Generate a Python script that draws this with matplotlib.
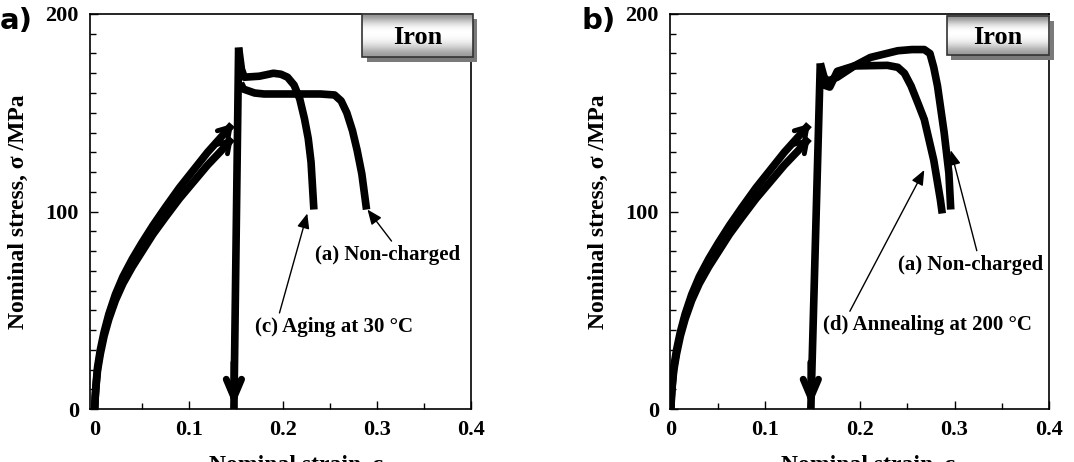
import numpy as np
import matplotlib.pyplot as plt
from matplotlib.patches import Rectangle

plt.rcParams['font.family'] = ['Liberation Serif', 'DejaVu Serif']
plt.rcParams['font.weight'] = 'bold'
plt.rcParams['axes.labelweight'] = 'bold'

# loading curves (pre-strain up to ~0.15)
load_x = [0, 0.0005, 0.0015, 0.003, 0.006, 0.01, 0.015, 0.022, 0.03, 0.04, 0.05,
          0.062, 0.075, 0.09, 0.105, 0.12, 0.135, 0.146]
load_hi = [0, 6, 13, 21, 30, 39, 48, 58, 67, 76, 84, 93, 102, 112, 121, 130, 138, 144]
load_lo = [0, 5.5, 12, 19.5, 28, 37, 45.5, 55, 63.5, 72, 79.5, 88.5, 97, 106.5, 115,
           123.5, 131, 137]

# unloading / reloading line
unload_x_a = [0.148, 0.153]
unload_y_a = [0, 183]
unload_x_b = [0.148, 0.158]
unload_y_b = [0, 175]

# panel a) curves after reloading
aging_x = [0.153, 0.156, 0.159, 0.175, 0.19, 0.198, 0.205, 0.212, 0.218, 0.223, 0.227, 0.23, 0.233]
aging_y = [183, 172, 168, 168.5, 170, 169.5, 168, 164, 157, 147, 137, 125, 101]
nonch_a_x = [0.155, 0.158, 0.17, 0.18, 0.2, 0.22, 0.24, 0.255, 0.262, 0.268, 0.274, 0.279, 0.284, 0.289]
nonch_a_y = [165, 162, 160, 159.5, 159.5, 159.5, 159.5, 159, 156, 150, 141, 131, 119, 101]

# panel b) curves after reloading
nonch_b_x = [0.158, 0.162, 0.166, 0.176, 0.194, 0.211, 0.24, 0.255, 0.268, 0.274, 0.278, 0.282, 0.289, 0.294, 0.296]
nonch_b_y = [175, 168, 166, 168, 173.7, 178, 181.4, 182, 182, 180, 173, 163.5, 140, 119.5, 101]
anneal_x = [0.158, 0.162, 0.168, 0.176, 0.194, 0.229, 0.24, 0.247, 0.254, 0.262, 0.268, 0.278, 0.285, 0.287]
anneal_y = [170, 164, 163, 171, 173.7, 174, 173, 170, 163.6, 154, 146.6, 126, 106, 99]

LW = 5.5
ARW = dict(arrowstyle='-|>,head_length=0.6,head_width=0.25', color='black', lw=1)


def draw_box(ax, x0, x1, y0, y1):
    # "Iron" label box with gradient and shadow (axes coordinates)
    ax.add_patch(Rectangle((x0 + 0.012, y0 - 0.012), x1 - x0, y1 - y0,
                           transform=ax.transAxes, facecolor='#7a7a7a',
                           edgecolor='none', clip_on=False, zorder=5))
    grad = np.array([0.55, 0.85, 1.0, 1.0, 0.95, 0.8, 0.6]).reshape(-1, 1)
    ax.imshow(grad, extent=[x0, x1, y0, y1], transform=ax.transAxes,
              cmap='gray', vmin=0, vmax=1, aspect='auto', clip_on=False,
              interpolation='bicubic', zorder=6)
    ax.add_patch(Rectangle((x0, y0), x1 - x0, y1 - y0, transform=ax.transAxes,
                           facecolor='none', edgecolor='#333333', lw=1.2,
                           clip_on=False, zorder=7))
    ax.text((x0 + x1) / 2, (y0 + y1) / 2 - 0.005, 'Iron', transform=ax.transAxes,
            ha='center', va='center', fontsize=19, zorder=8)


def style_axes(ax):
    ax.set_xlim(-0.005, 0.4)
    ax.set_ylim(0, 200)
    ax.set_xticks([0, 0.1, 0.2, 0.3, 0.4])
    ax.set_xticklabels(['0', '0.1', '0.2', '0.3', '0.4'])
    ax.set_xticks(np.arange(0.05, 0.4, 0.1), minor=True)
    ax.set_yticks([0, 100, 200])
    ax.set_yticks(np.arange(10, 200, 10), minor=True)
    ax.tick_params(which='both', direction='in', top=False, right=False,
                   labelsize=16, pad=8)
    ax.tick_params(which='major', length=6, width=1)
    ax.tick_params(which='minor', length=4, width=1)
    for s in ax.spines.values():
        s.set_linewidth(1.2)
    ax.set_ylabel('Nominal stress, σ /MPa', fontsize=17, labelpad=12)


def draw_loading(ax, ux, uy):
    ax.plot(load_x, load_hi, color='black', lw=LW, solid_capstyle='butt')
    ax.plot(load_x, load_lo, color='black', lw=LW, solid_capstyle='butt')
    for ys in (load_hi, load_lo):
        ax.annotate('', xy=(load_x[-1] + 0.003, ys[-1] + 1.5),
                    xytext=(load_x[-3], ys[-3]),
                    arrowprops=dict(arrowstyle='->,head_length=0.8,head_width=0.5',
                                    color='black', lw=3.5))
    ax.plot(ux, uy, color='black', lw=LW, solid_capstyle='butt')
    ax.annotate('', xy=(ux[0], 0), xytext=(ux[0], 25),
                arrowprops=dict(arrowstyle='->,head_length=1.3,head_width=0.55',
                                color='black', lw=5))


fig = plt.figure(figsize=(10.74, 4.62), dpi=100)
ax1 = fig.add_axes([0.0838, 0.1147, 0.3547, 0.855])
ax2 = fig.add_axes([0.6238, 0.1147, 0.353, 0.855])

# panel a)
style_axes(ax1)
draw_loading(ax1, unload_x_a, unload_y_a)
ax1.plot(aging_x, aging_y, color='black', lw=LW, solid_capstyle='butt')
ax1.plot(nonch_a_x, nonch_a_y, color='black', lw=LW, solid_capstyle='butt')
ax1.annotate('(a) Non-charged', xy=(0.29, 101), xytext=(0.311, 78),
             ha='center', va='center', fontsize=15,
             arrowprops=dict(ARW, relpos=(0.55, 1.0), shrinkA=1, shrinkB=0))
ax1.annotate('(c) Aging at 30 °C', xy=(0.226, 99), xytext=(0.254, 41.5),
             ha='center', va='center', fontsize=15,
             arrowprops=dict(ARW, relpos=(0.15, 1.0), shrinkA=1, shrinkB=0))
draw_box(ax1, 0.715, 1.005, 0.89, 1.0)

# panel b)
style_axes(ax2)
ax2.set_xlim(-0.001, 0.4)
draw_loading(ax2, unload_x_b, unload_y_b)
ax2.plot(nonch_b_x, nonch_b_y, color='black', lw=LW, solid_capstyle='butt')
ax2.plot(anneal_x, anneal_y, color='black', lw=LW, solid_capstyle='butt')
ax2.annotate('(a) Non-charged', xy=(0.296, 131), xytext=(0.317, 73),
             ha='center', va='center', fontsize=15,
             arrowprops=dict(ARW, relpos=(0.55, 1.0), shrinkA=1, shrinkB=0))
ax2.annotate('(d) Annealing at 200 °C', xy=(0.268, 121), xytext=(0.271, 42.4),
             ha='center', va='center', fontsize=15,
             arrowprops=dict(ARW, relpos=(0.12, 1.0), shrinkA=1, shrinkB=0))
draw_box(ax2, 0.73, 1.0, 0.895, 0.995)

# x labels, cut off by the bottom edge as in the source image
fig.text(0.276, -0.03, 'Nominal strain, ε', ha='center', va='bottom', fontsize=17)
fig.text(0.808, -0.03, 'Nominal strain, ε', ha='center', va='bottom', fontsize=17)

# panel letters
fig.text(0.0, 0.985, 'a)', ha='left', va='top', fontsize=21,
         family=['DejaVu Sans'], weight='bold')
fig.text(0.541, 0.985, 'b)', ha='left', va='top', fontsize=21,
         family=['DejaVu Sans'], weight='bold')

fig.savefig('out.png', dpi=100)
